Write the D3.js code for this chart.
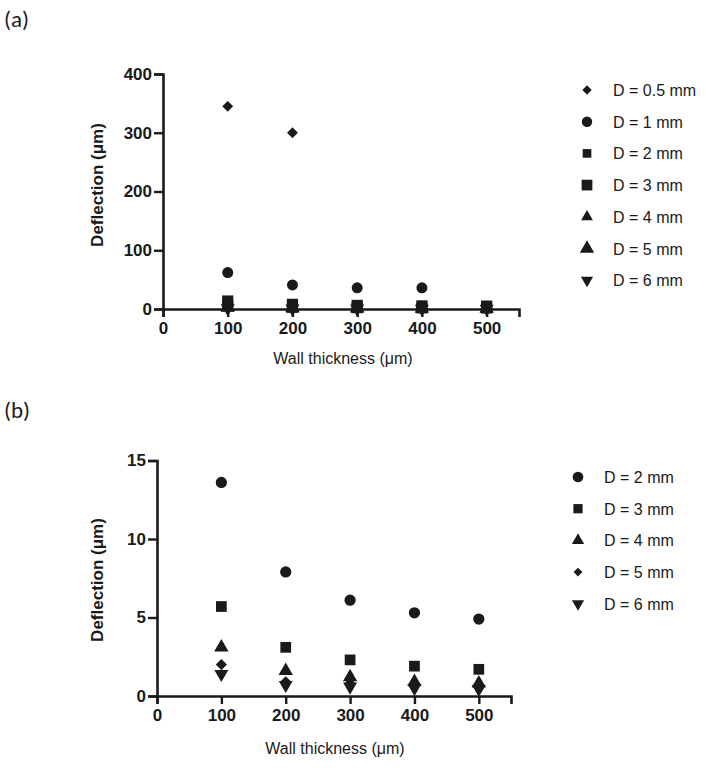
<!DOCTYPE html>
<html>
<head>
<meta charset="utf-8">
<script src="https://cdn.jsdelivr.net/npm/d3@7"></script>
<style>
  body { margin: 0; background: #fff; }
  svg { display: block; font-family: "Liberation Sans", Arial, sans-serif; }
</style>
</head>
<body>
<svg id="chart" width="717" height="770"></svg>
<script>
// Wall thickness values (x) shared by both panels
const thickness = [100, 200, 300, 400, 500];
const xTicks = [0, 100, 200, 300, 400, 500];

// Panel (a) series
const aLabels = ['D = 0.5 mm', 'D = 1 mm', 'D = 2 mm', 'D = 3 mm', 'D = 4 mm', 'D = 5 mm', 'D = 6 mm'];
const aD05 = [345, 300];
const aD1 = [62, 41, 36, 36];
const aD2 = [13.6, 7.9, 6.1, 5.3, 4.9];
const aD3 = [5.7, 3.1, 2.3, 1.9, 1.7];
const aD4 = [3.1, 1.6, 1.2, 0.9, 0.8];
const aD5 = [2.0, 0.9, 0.8, 0.6, 0.5];
const aD6 = [1.4, 0.7, 0.6, 0.5, 0.4];
const aYTicks = [0, 100, 200, 300, 400];

// Panel (b) series
const bLabels = ['D = 2 mm', 'D = 3 mm', 'D = 4 mm', 'D = 5 mm', 'D = 6 mm'];
const bD2 = [13.6, 7.9, 6.1, 5.3, 4.9];
const bD3 = [5.7, 3.1, 2.3, 1.9, 1.7];
const bD4 = [3.1, 1.6, 1.2, 0.9, 0.8];
const bD5 = [2.0, 0.9, 0.8, 0.7, 0.6];
const bD6 = [1.4, 0.7, 0.6, 0.5, 0.45];
const bYTicks = [0, 5, 10, 15];

const ink = '#1a1a1a';
const svg = d3.select('#chart');

// marker shapes
const shapes = {
  diamond: { type: d3.symbolDiamond2, rot: 0 },
  circle: { type: d3.symbolCircle, rot: 0 },
  square: { type: d3.symbolSquare, rot: 0 },
  triangle: { type: d3.symbolTriangle, rot: 0 },
  down: { type: d3.symbolTriangle, rot: 180 }
};

function drawPanel(cfg) {
  const x = d3.scaleLinear().domain([0, 550]).range(cfg.xRange);
  const y = d3.scaleLinear().domain([0, cfg.yMax]).range(cfg.yRange);
  const g = svg.append('g');

  // panel letter
  svg.append('text')
    .attr('x', 4)
    .attr('y', cfg.letterY)
    .style('font-family', 'Carlito, "Open Sans", sans-serif')
    .style('font-size', '23px')
    .attr('fill', ink)
    .text(cfg.letter);

  // x axis
  const xAxis = g.append('g')
    .attr('transform', `translate(0,${y(0)})`)
    .call(d3.axisBottom(x).tickValues(xTicks).tickSizeOuter(0).tickSize(8).tickPadding(5));
  // y axis
  const yAxis = g.append('g')
    .attr('transform', `translate(${x(0)},0)`)
    .call(d3.axisLeft(y).tickValues(cfg.yTicks).tickSizeOuter(0).tickSize(9).tickPadding(2));

  [xAxis, yAxis].forEach(ax => {
    ax.select('.domain').attr('stroke', ink).attr('stroke-width', 2.6);
    ax.selectAll('.tick line').attr('stroke', ink).attr('stroke-width', 2.4);
    ax.selectAll('.tick text')
      .attr('fill', ink)
      .style('font-family', '"Liberation Sans", Arial, sans-serif')
      .style('font-size', '17px')
      .style('font-weight', 'bold');
  });

  // axis titles
  g.append('text')
    .attr('transform', `translate(${cfg.yTitleX},${cfg.yTitleY}) rotate(-90)`)
    .attr('text-anchor', 'middle')
    .attr('fill', ink)
    .style('font-size', '17px')
    .style('font-weight', 'bold')
    .text('Deflection (μm)');
  g.append('text')
    .attr('x', cfg.xTitleX)
    .attr('y', cfg.xTitleY)
    .attr('text-anchor', 'middle')
    .attr('fill', ink)
    .style('font-size', '16px')
    .text('Wall thickness (μm)');

  // points
  cfg.series.forEach(s => {
    const sh = shapes[s.shape];
    const sym = d3.symbol().type(sh.type).size(s.size);
    g.append('g').selectAll('path')
      .data(s.values)
      .join('path')
      .attr('d', sym)
      .attr('fill', ink)
      .attr('transform', (d, i) => `translate(${x(thickness[i])},${y(d)}) rotate(${sh.rot})`);
  });

  // legend
  const legend = g.append('g');
  cfg.series.forEach((s, i) => {
    const sh = shapes[s.shape];
    const row = legend.append('g')
      .attr('transform', `translate(${cfg.legendX},${cfg.legendY + i * 31.7})`);
    row.append('path')
      .attr('d', d3.symbol().type(sh.type).size(s.legendSize)())
      .attr('fill', ink)
      .attr('transform', `rotate(${sh.rot})`);
    row.append('text')
      .attr('x', 26)
      .attr('y', 6)
      .attr('fill', ink)
      .style('font-size', '16px')
      .text(s.label);
  });
}

drawPanel({
  letter: '(a)', letterY: 27,
  xRange: [163, 519], yRange: [309, 74], yMax: 400, yTicks: aYTicks,
  yTitleX: 103, yTitleY: 185, xTitleX: 343, xTitleY: 364,
  legendX: 587, legendY: 90,
  series: [
    { label: aLabels[0], values: aD05, shape: 'diamond', size: 75, legendSize: 55 },
    { label: aLabels[1], values: aD1, shape: 'circle', size: 95, legendSize: 85 },
    { label: aLabels[2], values: aD2, shape: 'square', size: 125, legendSize: 75 },
    { label: aLabels[3], values: aD3, shape: 'square', size: 125, legendSize: 115 },
    { label: aLabels[4], values: aD4, shape: 'triangle', size: 85, legendSize: 60 },
    { label: aLabels[5], values: aD5, shape: 'triangle', size: 85, legendSize: 90 },
    { label: aLabels[6], values: aD6, shape: 'down', size: 85, legendSize: 65 }
  ]
});

drawPanel({
  letter: '(b)', letterY: 418,
  xRange: [157, 511], yRange: [696, 460.5], yMax: 15, yTicks: bYTicks,
  yTitleX: 103, yTitleY: 580, xTitleX: 335, xTitleY: 754,
  legendX: 578, legendY: 477,
  series: [
    { label: bLabels[0], values: bD2, shape: 'circle', size: 100, legendSize: 90 },
    { label: bLabels[1], values: bD3, shape: 'square', size: 115, legendSize: 85 },
    { label: bLabels[2], values: bD4, shape: 'triangle', size: 90, legendSize: 65 },
    { label: bLabels[3], values: bD5, shape: 'diamond', size: 80, legendSize: 50 },
    { label: bLabels[4], values: bD6, shape: 'down', size: 85, legendSize: 65 }
  ]
});
</script>
</body>
</html>
